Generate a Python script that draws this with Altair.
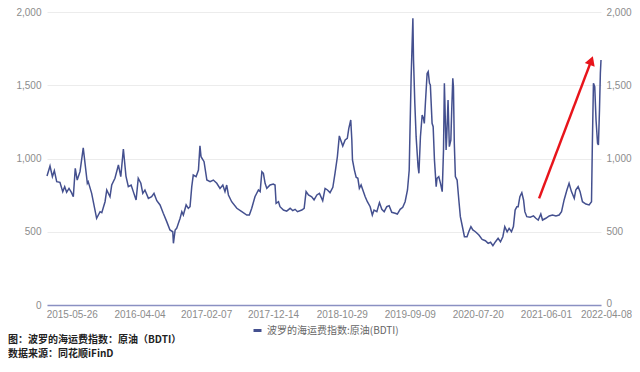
import altair as alt
import pandas as pd

# ---------------- data ----------------
dates = [
    "2015-03-28", "2015-04-11", "2015-04-22", "2015-05-01", "2015-05-12", "2015-05-27",
    "2015-06-09", "2015-06-18", "2015-06-27", "2015-07-08", "2015-07-19", "2015-07-28",
    "2015-08-06", "2015-08-15", "2015-08-28", "2015-09-12", "2015-10-01", "2015-10-05",
    "2015-10-21", "2015-11-13", "2015-11-29", "2015-12-07", "2015-12-22", "2015-12-30",
    "2016-01-14", "2016-01-22", "2016-02-06", "2016-02-22", "2016-03-04", "2016-03-16",
    "2016-03-28", "2016-04-08", "2016-04-21", "2016-05-01", "2016-05-14", "2016-05-24",
    "2016-06-05", "2016-06-14", "2016-06-24", "2016-07-10", "2016-07-25", "2016-08-05",
    "2016-08-18", "2016-09-02", "2016-09-17", "2016-10-03", "2016-10-18", "2016-10-31",
    "2016-11-03", "2016-11-11", "2016-11-18", "2016-12-04", "2016-12-12", "2016-12-19",
    "2017-01-01", "2017-01-11", "2017-01-19", "2017-01-27", "2017-02-03", "2017-02-16",
    "2017-02-27", "2017-03-06", "2017-03-11", "2017-03-25", "2017-04-07", "2017-04-22",
    "2017-05-07", "2017-05-23", "2017-06-07", "2017-06-20", "2017-06-30", "2017-07-08",
    "2017-07-16", "2017-07-31", "2017-08-24", "2017-09-16", "2017-10-09", "2017-10-21",
    "2017-11-01", "2017-11-16", "2017-12-02", "2017-12-10", "2017-12-18", "2017-12-25",
    "2018-01-02", "2018-01-10", "2018-01-25", "2018-02-09", "2018-02-17", "2018-02-22",
    "2018-03-05", "2018-03-12", "2018-03-28", "2018-04-12", "2018-04-28", "2018-05-10",
    "2018-05-21", "2018-06-01", "2018-06-21", "2018-07-02", "2018-07-11", "2018-07-22",
    "2018-08-06", "2018-08-17", "2018-08-30", "2018-09-11", "2018-09-26", "2018-10-07",
    "2018-10-18", "2018-10-30", "2018-11-12", "2018-11-22", "2018-12-03", "2018-12-12",
    "2018-12-28",
    "2019-01-08", "2019-01-18", "2019-01-25", "2019-02-03", "2019-02-08", "2019-02-11",
    "2019-02-20", "2019-02-28", "2019-03-08", "2019-03-15", "2019-03-23", "2019-03-31",
    "2019-04-11", "2019-04-21", "2019-05-04", "2019-05-14", "2019-05-22", "2019-06-04",
    "2019-06-16", "2019-06-27", "2019-07-08", "2019-07-20", "2019-07-31", "2019-08-12",
    "2019-08-28", "2019-09-07", "2019-09-20", "2019-10-02", "2019-10-13", "2019-10-24",
    "2019-11-01", "2019-11-05", "2019-11-10", "2019-11-18", "2019-11-21", "2019-11-27",
    "2019-12-03", "2019-12-12", "2019-12-16", "2019-12-23", "2019-12-31",
    "2020-01-06", "2020-01-10", "2020-01-15", "2020-01-23", "2020-01-28", "2020-02-03",
    "2020-02-07", "2020-02-15", "2020-02-20", "2020-02-26", "2020-03-05", "2020-03-09",
    "2020-03-17", "2020-03-25", "2020-04-02", "2020-04-08", "2020-04-12", "2020-04-20",
    "2020-04-23", "2020-04-29", "2020-05-05", "2020-05-12", "2020-05-16", "2020-05-21",
    "2020-05-24", "2020-05-28", "2020-06-02", "2020-06-10", "2020-06-18", "2020-06-25",
    "2020-07-03", "2020-07-14", "2020-07-26", "2020-08-03", "2020-08-13", "2020-08-22",
    "2020-09-03", "2020-09-19", "2020-10-04", "2020-10-19", "2020-11-01", "2020-11-12",
    "2020-11-23", "2020-12-05", "2020-12-17", "2020-12-28",
    "2021-01-08", "2021-01-17", "2021-01-28", "2021-02-06", "2021-02-17", "2021-02-26",
    "2021-03-06", "2021-03-14", "2021-03-20", "2021-03-28", "2021-04-06", "2021-04-14",
    "2021-04-20", "2021-04-29", "2021-05-15", "2021-05-30", "2021-06-10", "2021-06-21",
    "2021-07-03", "2021-07-11", "2021-07-26", "2021-08-11", "2021-08-26", "2021-09-11",
    "2021-09-26", "2021-10-07", "2021-10-19", "2021-11-01", "2021-11-11", "2021-11-22",
    "2021-12-05", "2021-12-12", "2021-12-23",
    "2022-01-01", "2022-01-12", "2022-01-28", "2022-02-12", "2022-02-23", "2022-02-27",
    "2022-03-04", "2022-03-10", "2022-03-16", "2022-03-23", "2022-03-27", "2022-04-01",
    "2022-04-05", "2022-04-08",
]
bdti = [
    880, 949, 876, 917, 842, 837, 774, 808, 769, 796, 769, 739,
    933, 853, 910, 1072, 831, 842, 762, 592, 637, 630, 705, 785,
    739, 819, 865, 956, 876, 1065, 880, 808, 819, 774, 717, 865,
    831, 762, 785, 728, 739, 762, 712, 683, 626, 569, 512, 500,
    421, 512, 523, 592, 637, 614,
    683, 660, 671, 808, 887, 876, 921, 1087, 1012, 978, 853, 842,
    853, 831, 796, 819, 774, 819, 751, 705, 660, 637, 614, 614,
    660, 739, 785, 774, 910, 899,
    831, 796, 819, 826, 819, 694, 705, 671, 648, 641, 660, 644,
    653, 637, 648, 660, 774, 751, 739, 717, 751, 762, 712, 796,
    785, 767, 803, 899, 1012, 1154, 1085,
    1126, 1138, 1206, 1263, 1126, 990, 921, 872, 865, 796, 819, 785,
    739, 705, 671, 614, 648, 637, 699, 653, 637, 671, 678, 633,
    626, 621, 653, 667, 705, 785, 921, 1217, 1558, 1957, 1672, 1377,
    1149, 944, 899, 1149, 1297,
    1274, 1240, 1377, 1581, 1593, 1513, 1502, 1240, 1217, 990, 808, 865,
    876, 830, 774, 1058, 1513, 1058, 1149, 1399, 1081, 1126, 1331, 1547,
    1490, 1104, 876, 853, 717, 603, 546, 466, 466, 500, 535, 512,
    500, 478, 448, 439, 421, 428, 405, 432, 455, 432,
    466, 535, 500, 523, 500, 535, 648, 671, 671, 739, 767, 717,
    637, 603, 599, 608, 592, 580, 621, 580, 592, 608, 614, 608,
    614, 637, 717, 785, 831, 774, 728, 785, 808,
    774, 705, 689, 683, 705, 1104, 1513, 1490, 1263, 1104, 1092, 1331,
    1581, 1672,
]
series_name = "波罗的海运费指数:原油(BDTI)"
x_tick_labels = ["2015-05-26", "2016-04-04", "2017-02-07", "2017-12-14", "2018-10-29",
                 "2019-09-09", "2020-07-20", "2021-06-01", "2022-04-08"]
y_ticks = [0, 500, 1000, 1500, 2000]
arrow_from = ["2021-06-25", 728]
arrow_to = ["2022-02-22", 1668]
caption_1 = "图：波罗的海运费指数：原油（BDTI）"
caption_2 = "数据来源：同花顺iFinD"

# ---------------- styling ----------------
LINE_COLOR = "#44508f"
RED = "#e8141b"
LABEL_COLOR = "#8c8c8c"
NUM_FONT = "Liberation Sans"
CJK_FONT = "Noto Sans CJK SC"


def to_dt(s):
    return alt.DateTime(year=int(s[:4]), month=int(s[5:7]), date=int(s[8:10]))


df = pd.DataFrame({"date": pd.to_datetime(dates), "value": bdti, "series": series_name})
arrow_df = pd.DataFrame({
    "x": [pd.Timestamp(arrow_from[0])], "y": [arrow_from[1]],
    "x2": [pd.Timestamp(arrow_to[0])], "y2": [arrow_to[1]],
})
one_row = pd.DataFrame({"k": [0]})

x_scale = alt.Scale(domain=[to_dt(dates[0]), to_dt(dates[-1])], nice=False)
y_scale = alt.Scale(domain=[0, 2000], nice=False)

# the last date label is pulled in a little so it stays inside the page
last_label_test = "datum.value >= datetime(2022, 2, 1)"

x_axis = alt.Axis(
    values=[to_dt(s) for s in x_tick_labels], format="%Y-%m-%d", title=None,
    grid=False, ticks=False, tickSize=0, labelPadding=4,
    labelOffset={"condition": {"test": last_label_test, "value": 5}, "value": 12},
    labelFlush=False, labelOverlap=False, labelFontSize=10, labelColor=LABEL_COLOR,
    labelFont=NUM_FONT, domainColor="#8a90c2", domainWidth=1.5,
)

left_axis = alt.Axis(
    orient="left", values=y_ticks, format=",d", title=None, grid=True,
    gridColor="#ececec", gridWidth=1, ticks=False, tickSize=0, domain=False,
    labelPadding=6, labelFontSize=10, labelColor=LABEL_COLOR, labelFont=NUM_FONT,
)
right_axis = alt.Axis(
    orient="right", values=y_ticks, format=",d", title=None, grid=False,
    ticks=False, tickSize=0, domain=False, labelPadding=5, labelFontSize=10,
    labelOffset={"condition": {"test": "datum.value == 0", "value": -2}, "value": 0},
    labelColor=LABEL_COLOR, labelFont=NUM_FONT,
)

line = alt.Chart(df).mark_line(strokeWidth=1.5).encode(
    x=alt.X("date:T", scale=x_scale, axis=x_axis),
    y=alt.Y("value:Q", scale=y_scale, axis=left_axis),
    color=alt.Color(
        "series:N",
        scale=alt.Scale(range=[LINE_COLOR]),
        legend=alt.Legend(
            orient="none", legendX=205, legendY=313, title=None,
            symbolType="stroke", symbolStrokeWidth=3, symbolSize=64,
            labelFontSize=10, labelColor="#666666", labelFont=CJK_FONT, padding=0,
        ),
    ),
)

right = alt.Chart(df).mark_line(opacity=0).encode(
    x=alt.X("date:T", scale=x_scale),
    y=alt.Y("value:Q", scale=y_scale, axis=right_axis),
)

shaft = alt.Chart(arrow_df).mark_rule(color=RED, strokeWidth=2.5).encode(
    x=alt.X("x:T", scale=x_scale),
    y=alt.Y("y:Q", scale=y_scale, axis=None),
    x2="x2:T",
    y2="y2:Q",
)
head = alt.Chart(arrow_df).mark_point(
    shape="triangle-up", filled=True, size=110, angle=20, color=RED, opacity=1
).encode(
    x=alt.X("x2:T", scale=x_scale),
    y=alt.Y("y2:Q", scale=y_scale, axis=None),
)

cap1 = alt.Chart(one_row).mark_text(
    align="left", baseline="middle", font=CJK_FONT, fontSize=10,
    fontWeight="bold", color="#222222",
).encode(x=alt.value(-39), y=alt.value(328), text=alt.value(caption_1))
cap2 = alt.Chart(one_row).mark_text(
    align="left", baseline="middle", font=CJK_FONT, fontSize=10,
    fontWeight="bold", color="#222222",
).encode(x=alt.value(-39), y=alt.value(342), text=alt.value(caption_2))

chart = (
    alt.layer(line, right, shaft, head, cap1, cap2)
    .resolve_axis(y="independent")
    .properties(
        width=554, height=293,
        autosize=alt.AutoSizeParams(type="none"),
        padding={"left": 39, "top": 4, "right": 31, "bottom": 55},
    )
    .configure_view(stroke=None)
)

chart.save("out.html", embed_options={"renderer": "svg", "actions": False})
